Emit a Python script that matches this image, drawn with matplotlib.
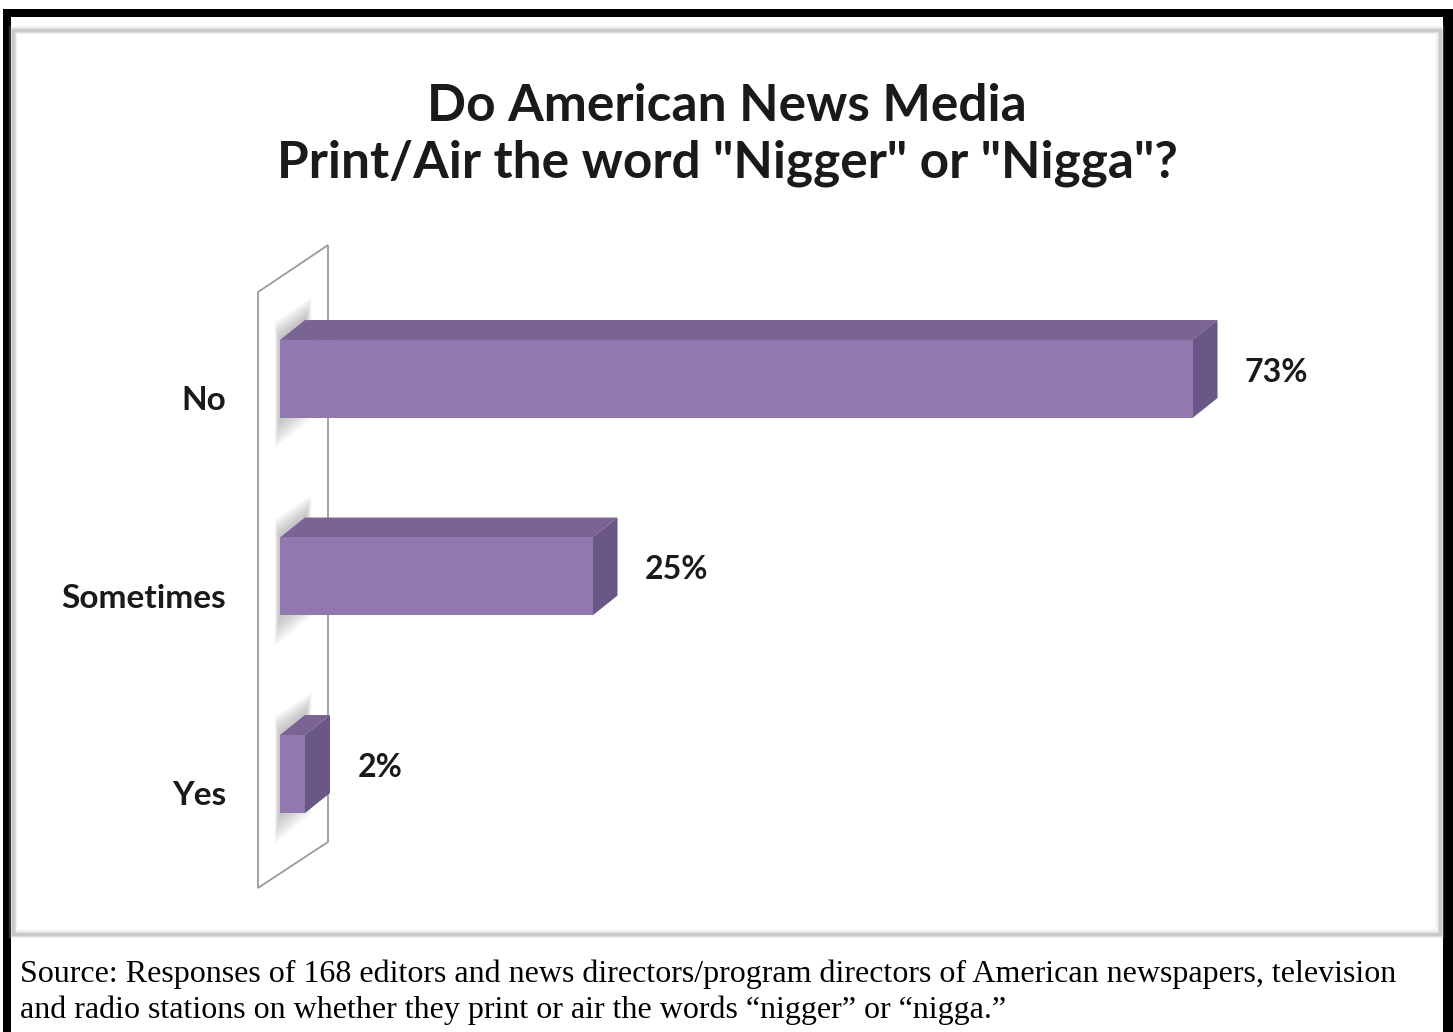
import matplotlib
matplotlib.use("Agg")
import matplotlib.pyplot as plt
from matplotlib.patches import Rectangle, Polygon

# survey answers
categories = ["No", "Sometimes", "Yes"]
percent = [73, 25, 2]
value_labels = ["73%", "25%", "2%"]

title = 'Do American News Media\nPrint/Air the word "Nigger" or "Nigga"?'
source = ("Source: Responses of 168 editors and news directors/program directors of American newspapers, television\n"
          "and radio stations on whether they print or air the words \u201cnigger\u201d or \u201cnigga.\u201d")

W, H = 1453, 1032
fig = plt.figure(figsize=(W / 100, H / 100), dpi=100)
fig.patch.set_facecolor("white")


def px(x, y, w, h):
    # pixel box (top-left origin) -> figure fraction
    return (x / W, 1 - (y + h) / H, w / W, h / H)


# black frame around the whole thing
for (x, y, w, h) in [(3, 9, 1450, 8), (3, 9, 8, 1023), (1443, 9, 10, 1023)]:
    l, b, ww, hh = px(x, y, w, h)
    fig.patches.append(Rectangle((l, b), ww, hh, transform=fig.transFigure,
                                 facecolor="black", edgecolor="none", zorder=0))

# chart box with soft grey edge
l, b, ww, hh = px(13, 30, 1427, 904)
for lw, a in [(6, 0.25), (3.5, 0.5), (2, 1.0)]:
    fig.patches.append(Rectangle((l, b), ww, hh, transform=fig.transFigure,
                                 facecolor="none", edgecolor="#c8c8c8", lw=lw, alpha=a, zorder=1))

fig.text(727 / W, 1 - 135 / H, title, ha="center", va="center", fontsize=37,
         fontweight="bold", family="Lato", color="#1a1a1a", linespacing=1.24)

fig.text(20 / W, 1 - 992 / H, source, ha="left", va="center", fontsize=23,
         family="Liberation Serif", color="black", linespacing=1.3)

# plot area: 0% sits at x=280px, 12.5 px per percent
ax = fig.add_axes(px(250, 235, 1180, 665))
ax.set_xlim(-2.4, 92)
ax.set_ylim(2.638, -0.729)
ax.axis("off")

ypos = list(range(len(categories)))
bar_h = 0.395
dx, dy = 2.0, 0.101  # depth of the 3d boxes

front_c = "#9179b0"
top_c = "#7a6494"
side_c = "#6a5787"

# back wall
wx0, wx1 = -1.76, 3.84
wall = Polygon([(wx0, -0.44), (wx1, -0.678), (wx1, 2.344), (wx0, 2.577)], closed=True,
               facecolor="white", edgecolor="#9a9a9a", lw=1.3, zorder=1)
ax.add_patch(wall)

for y, v, lab, cat in zip(ypos, percent, value_labels, categories):
    t = y - bar_h / 2
    bt = y + bar_h / 2

    # soft shadow on the wall around the bar's end
    for k in range(6):
        m = 1 - k / 6
        sh = Polygon([(-0.4 * m, t - 0.09 * m),
                      (dx + 0.5 * m, t - dy - 0.11 * m),
                      (dx + 0.5 * m, bt - dy + 0.1 * m),
                      (-0.4 * m, bt + 0.15 * m)],
                     closed=True, facecolor="#808080", edgecolor="none", alpha=0.09, zorder=2)
        ax.add_patch(sh)

    ax.add_patch(Polygon([(0, t), (v, t), (v + dx, t - dy), (dx, t - dy)],
                         closed=True, facecolor=top_c, edgecolor="none", zorder=3))
    ax.add_patch(Polygon([(v, t), (v + dx, t - dy), (v + dx, bt - dy), (v, bt)],
                         closed=True, facecolor=side_c, edgecolor="none", zorder=3))
    ax.add_patch(Rectangle((0, t), v, bar_h, facecolor=front_c, edgecolor="none", zorder=4))

    ax.text(v + dx + 2.2, y - 0.035, lab, ha="left", va="center", fontsize=23,
            fontweight="bold", family="Lato", color="#1a1a1a", zorder=5)
    ax.text(-4.3, y + 0.11, cat, ha="right", va="center", fontsize=24,
            fontweight="bold", family="Lato", color="#1a1a1a", clip_on=False, zorder=5)

fig.savefig("out.png", dpi=100)
